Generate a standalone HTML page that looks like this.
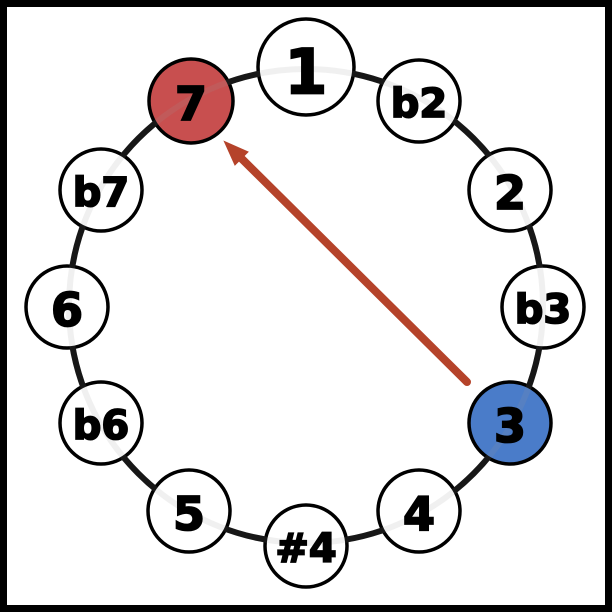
<!DOCTYPE html><html><head><style>body{margin:0}svg{display:block}text{font-family:"DejaVu Sans",sans-serif;font-weight:bold;text-anchor:middle;dominant-baseline:central}</style></head><body>
<svg width="612" height="612" viewBox="0 0 612 612">
<rect x="3.5" y="3.5" width="605" height="605" fill="#fff" stroke="#000" stroke-width="7"/>
<circle cx="306" cy="306" r="237" fill="none" stroke="#000" stroke-width="6"/>
<defs><marker id="a" markerUnits="userSpaceOnUse" markerWidth="26" markerHeight="20" refX="4" refY="10" orient="auto"><path d="M0,0 L26,10 L0,20 z" fill="#b5432a"/></marker></defs>
<line x1="467" y1="382" x2="239" y2="156" stroke="#b5432a" stroke-width="8" stroke-linecap="round" marker-end="url(#a)"/>
<g stroke="#000" stroke-width="3.5" fill="#fff">
<circle cx="306" cy="67" r="48"/>
<circle cx="419" cy="101" r="41"/>
<circle cx="510" cy="190" r="41"/>
<circle cx="543" cy="307" r="41"/>
<circle cx="510" cy="423" r="41" fill="#4a7cc9"/>
<circle cx="419" cy="511" r="41"/>
<circle cx="306" cy="546" r="41"/>
<circle cx="189" cy="511" r="41"/>
<circle cx="101" cy="423" r="41"/>
<circle cx="67" cy="307" r="41"/>
<circle cx="101" cy="190" r="41"/>
<circle cx="191" cy="101" r="42" fill="#c84f4f"/>
</g>
<circle cx="306" cy="306" r="237" fill="none" stroke="#999" stroke-opacity="0.15" stroke-width="6"/>
<g fill="#000" stroke="#000" stroke-width="1.8">
<text x="306" y="72" font-size="62">1</text>
<text x="419" y="104" font-size="40">b2</text>
<text x="510" y="193" font-size="46">2</text>
<text x="543" y="310" font-size="40">b3</text>
<text x="510" y="426" font-size="46">3</text>
<text x="419" y="514" font-size="46">4</text>
<text x="306" y="549" font-size="40">#4</text>
<text x="189" y="514" font-size="46">5</text>
<text x="101" y="426" font-size="40">b6</text>
<text x="67" y="310" font-size="46">6</text>
<text x="101" y="193" font-size="40">b7</text>
<text x="191" y="104" font-size="46">7</text>
</g>
</svg></body></html>
